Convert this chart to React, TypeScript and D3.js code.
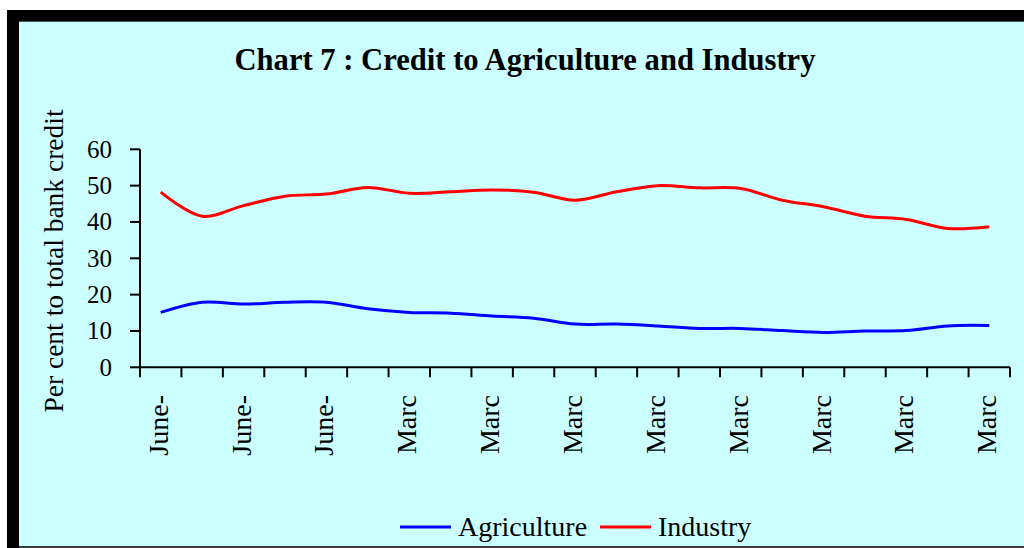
import React from "react";
import * as d3 from "d3";

const categories = [
  "June-", "June-", "June-", "June-", "June-", "June-",
  "Marc", "Marc", "Marc", "Marc", "Marc", "Marc", "Marc", "Marc",
  "Marc", "Marc", "Marc", "Marc", "Marc", "Marc", "Marc",
];
const agriculture = [15.1, 17.9, 17.4, 17.9, 17.9, 16.1, 15.1, 14.9, 14.1, 13.5, 11.9, 11.9, 11.4, 10.7, 10.7, 10.1, 9.6, 10.0, 10.1, 11.4, 11.5];
const industry = [48.2, 41.6, 44.5, 47.1, 47.7, 49.5, 47.9, 48.3, 48.8, 48.2, 46.0, 48.3, 50.0, 49.4, 49.2, 46.0, 44.2, 41.6, 40.7, 38.2, 38.7];
const yTicks = [0, 10, 20, 30, 40, 50, 60];
const seriesNames = ["Agriculture", "Industry"];
const seriesColors = ["#0000ff", "#ff0000"];

const W = 1024;
const H = 548;
const plot = { left: 140, right: 1010, top: 149.3, bottom: 367.3 };
const serif = "'Liberation Serif', 'Times New Roman', serif";

export default function App() {
  const x = d3
    .scaleBand<number>()
    .domain(categories.map((_, i) => i))
    .range([plot.left, plot.right])
    .paddingInner(0)
    .paddingOuter(0);
  const y = d3.scaleLinear().domain([0, 60]).range([plot.bottom, plot.top]);
  const cx = (i: number) => (x(i) as number) + x.bandwidth() / 2;

  const line = d3
    .line<number>()
    .x((_, i) => cx(i))
    .y((d) => y(d))
    .curve(d3.curveCatmullRom.alpha(0.5));

  const series = [agriculture, industry];
  const boundaries = d3.range(categories.length + 1).map((i) => plot.left + i * x.bandwidth());

  return (
    <div style={{ position: "fixed", left: 0, top: 0, width: W, height: H }}>
      <svg width={W} height={H} style={{ display: "block" }}>
        <rect x={0} y={0} width={W} height={H} fill="#ffffff" />
        <rect x={7} y={10} width={W - 7} height={H - 10} fill="#000000" />
        <rect x={19} y={22} width={W - 19} height={524} fill="#ccffff" />
        <rect x={19} y={21} width={W - 19} height={1} fill="#3a5a5a" />
        <rect x={19} y={546} width={W - 19} height={2} fill="#3a3a3a" />

        <text
          x={525}
          y={70}
          textAnchor="middle"
          fontFamily={serif}
          fontWeight="bold"
          fontSize={30.6}
          fill="#000"
        >
          Chart 7 : Credit to Agriculture and Industry
        </text>

        {/* Y axis */}
        <line x1={plot.left} x2={plot.left} y1={plot.top} y2={plot.bottom} stroke="#000" strokeWidth={2} />
        {yTicks.map((t) => (
          <g key={t}>
            <line x1={plot.left - 10} x2={plot.left} y1={y(t)} y2={y(t)} stroke="#000" strokeWidth={2} />
            <text
              x={112}
              y={y(t)}
              dy="0.34em"
              textAnchor="end"
              fontFamily={serif}
              fontSize={25}
              fill="#000"
            >
              {t}
            </text>
          </g>
        ))}
        <text
          transform={`translate(63, 261) rotate(-90)`}
          textAnchor="middle"
          fontFamily={serif}
          fontSize={27.5}
          fill="#000"
        >
          Per cent to total bank credit
        </text>

        {/* X axis */}
        <line x1={plot.left - 1} x2={plot.right} y1={plot.bottom} y2={plot.bottom} stroke="#000" strokeWidth={2} />
        {boundaries.map((b, i) => (
          <line key={i} x1={b} x2={b} y1={plot.bottom} y2={plot.bottom + 10} stroke="#000" strokeWidth={2} />
        ))}
        {categories.map((c, i) =>
          i % 2 === 0 ? (
            <text
              key={i}
              transform={`translate(${cx(i) + 7}, 395) rotate(-90)`}
              textAnchor="end"
              fontFamily={serif}
              fontSize={28}
              fill="#000"
            >
              {c}
            </text>
          ) : null
        )}

        {/* Lines */}
        {series.map((s, k) => (
          <path key={k} d={line(s) || ""} fill="none" stroke={seriesColors[k]} strokeWidth={3} />
        ))}

        {/* Legend */}
        {seriesNames.map((n, k) => {
          const lx = 400 + k * 200;
          return (
            <g key={n}>
              <line x1={lx} x2={lx + 51} y1={527} y2={527} stroke={seriesColors[k]} strokeWidth={3} />
              <text x={lx + 58} y={536} fontFamily={serif} fontSize={28} fill="#000">
                {n}
              </text>
            </g>
          );
        })}
      </svg>
    </div>
  );
}
